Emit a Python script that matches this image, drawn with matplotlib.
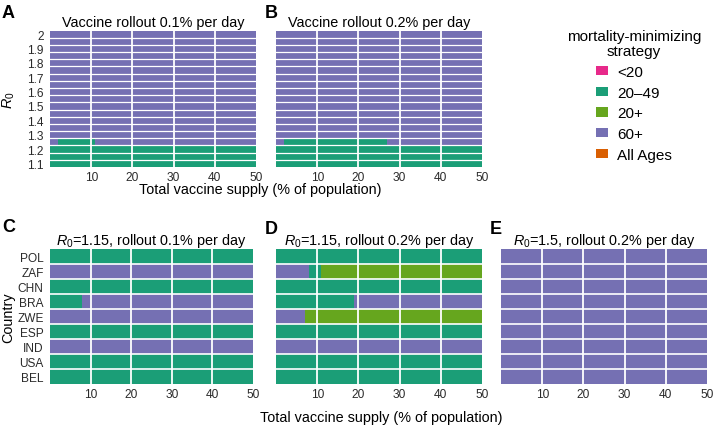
import matplotlib
matplotlib.use("Agg")
import matplotlib.pyplot as plt
from matplotlib.patches import Patch

plt.rcParams['font.family'] = ['Liberation Sans', 'DejaVu Sans']
plt.rcParams['mathtext.fontset'] = 'custom'
plt.rcParams['mathtext.rm'] = 'Liberation Sans'
plt.rcParams['mathtext.it'] = 'Liberation Sans:italic'

# ---------------- data ----------------
strategies = ["<20", "20\u201349", "20+", "60+", "All Ages"]
strategy_colors = ["#E7298A", "#1B9E77", "#66A61E", "#7570B3", "#D95F02"]
color_of = dict(zip(strategies, strategy_colors))

x_ticks = [10, 20, 30, 40, 50]
supply_max = 50

r0_values = [1.1, 1.15, 1.2, 1.25, 1.3, 1.35, 1.4, 1.45, 1.5, 1.55,
             1.6, 1.65, 1.7, 1.75, 1.8, 1.85, 1.9, 1.95, 2.0]
r0_ticks = [1.1, 1.2, 1.3, 1.4, 1.5, 1.6, 1.7, 1.8, 1.9, 2.0]
r0_ticklabels = ["1.1", "1.2", "1.3", "1.4", "1.5", "1.6", "1.7", "1.8", "1.9", "2"]

G = "20\u201349"
P = "60+"
L = "20+"

# each row: list of (strategy, supply at which the run ends)
panel_a_runs = [
    [(G, 50)], [(G, 50)], [(G, 50)],
    [(P, 2), (G, 11), (P, 50)],
    [(P, 50)], [(P, 50)], [(P, 50)], [(P, 50)], [(P, 50)], [(P, 50)],
    [(P, 50)], [(P, 50)], [(P, 50)], [(P, 50)], [(P, 50)], [(P, 50)],
    [(P, 50)], [(P, 50)], [(P, 50)],
]
panel_b_runs = [
    [(G, 50)], [(G, 50)], [(G, 50)],
    [(P, 2), (G, 27), (P, 50)],
    [(P, 50)], [(P, 50)], [(P, 50)], [(P, 50)], [(P, 50)], [(P, 50)],
    [(P, 50)], [(P, 50)], [(P, 50)], [(P, 50)], [(P, 50)], [(P, 50)],
    [(P, 50)], [(P, 50)], [(P, 50)],
]

countries = ["POL", "ZAF", "CHN", "BRA", "ZWE", "ESP", "IND", "USA", "BEL"]
panel_c_runs = [
    [(G, 50)],
    [(P, 50)],
    [(G, 50)],
    [(G, 8), (P, 50)],
    [(P, 50)],
    [(G, 50)],
    [(P, 50)],
    [(G, 50)],
    [(G, 50)],
]
panel_d_runs = [
    [(G, 50)],
    [(P, 8), (G, 11), (L, 50)],
    [(G, 50)],
    [(G, 19), (P, 50)],
    [(P, 7), (L, 50)],
    [(G, 50)],
    [(P, 50)],
    [(G, 50)],
    [(G, 50)],
]
panel_e_runs = [
    [(P, 50)], [(P, 50)], [(P, 50)], [(P, 50)], [(P, 50)],
    [(P, 50)], [(P, 50)], [(P, 50)], [(P, 50)],
]

# ---------------- figure ----------------
W, H = 713, 427
fig = plt.figure(figsize=(W / 100, H / 100), dpi=100)


def fax(left, top, right, bottom):
    return fig.add_axes([left / W, 1 - bottom / H, (right - left) / W, (bottom - top) / H])


def draw(ax, ypos, runs, row_h, hline_lw):
    for y, row in zip(ypos, runs):
        start = 0
        for s, end in row:
            ax.barh(y, end - start, left=start, height=row_h, color=color_of[s], linewidth=0)
            start = end
    for i in range(len(ypos) - 1):
        ax.axhline((ypos[i] + ypos[i + 1]) / 2, color="white", lw=hline_lw)
    for xv in x_ticks[:-1]:
        ax.axvline(xv, color="white", lw=1.3)
    ax.set_xlim(0, supply_max)
    ax.set_xticks(x_ticks)
    ax.set_xticklabels([str(v) for v in x_ticks])
    ax.tick_params(axis="x", length=0, labelsize=8.6, pad=3, colors="#2a2a2a")
    ax.tick_params(axis="y", length=0, labelsize=8.6, pad=4.5, colors="#2a2a2a")
    for sp in ax.spines.values():
        sp.set_visible(False)


tfs = 10.4

axA = fax(50, 31.5, 256, 168)
draw(axA, r0_values, panel_a_runs, 0.05, 0.9)
axA.set_ylim(1.075, 2.025)
axA.set_yticks(r0_ticks)
axA.set_yticklabels(r0_ticklabels)
axA.set_title("Vaccine rollout 0.1% per day", fontsize=tfs, pad=3.5)

axB = fax(276, 31.5, 482, 168)
draw(axB, r0_values, panel_b_runs, 0.05, 0.9)
axB.set_ylim(1.075, 2.025)
axB.set_yticks([])
axB.set_title("Vaccine rollout 0.2% per day", fontsize=tfs, pad=3.5)

cy = [8 - i for i in range(len(countries))]
for left, right, runs, title, show_y in [
    (50, 253, panel_c_runs, r"$\mathit{R}_\mathit{0}$=1.15, rollout 0.1% per day", True),
    (276, 482, panel_d_runs, r"$\mathit{R}_\mathit{0}$=1.15, rollout 0.2% per day", False),
    (501, 707, panel_e_runs, r"$\mathit{R}_\mathit{0}$=1.5, rollout 0.2% per day", False),
]:
    ax = fax(left, 250, right, 385)
    draw(ax, cy, runs, 1.0, 1.2)
    ax.set_ylim(-0.5, 8.5)
    if show_y:
        ax.set_yticks(cy)
        ax.set_yticklabels(countries)
    else:
        ax.set_yticks([])
    ax.set_title(title, fontsize=tfs, pad=3)

# panel letters
for letter, x, y in [("A", 2, 14), ("B", 265, 13), ("C", 2, 228), ("D", 265, 229), ("E", 490, 229)]:
    fig.text(x / W, 1 - y / H, letter, fontsize=13, fontweight="bold", ha="left", va="center")

# axis labels
fig.text(260 / W, 1 - 190 / H, "Total vaccine supply (% of population)", fontsize=tfs,
         ha="center", va="center")
fig.text(381 / W, 1 - 418 / H, "Total vaccine supply (% of population)", fontsize=tfs,
         ha="center", va="center")
fig.text(9 / W, 1 - 100 / H, r"$\mathit{R}_\mathit{0}$", fontsize=tfs, rotation=90,
         ha="center", va="center")
fig.text(8 / W, 1 - 318 / H, "Country", fontsize=tfs, rotation=90, ha="center", va="center")

# legend
handles = [Patch(facecolor=c, edgecolor="none") for c in strategy_colors]
leg = fig.legend(handles, strategies, title="mortality-minimizing\nstrategy",
                 loc="upper center", bbox_to_anchor=(634 / W, 1 - 30 / H), frameon=False,
                 fontsize=11, title_fontsize=11, handlelength=0.75, handleheight=0.55,
                 handletextpad=0.6, labelspacing=0.44, borderaxespad=0, borderpad=0)
leg.get_title().set_multialignment("center")
leg.get_title().set_linespacing(1.12)

fig.savefig("out.png", dpi=100)
